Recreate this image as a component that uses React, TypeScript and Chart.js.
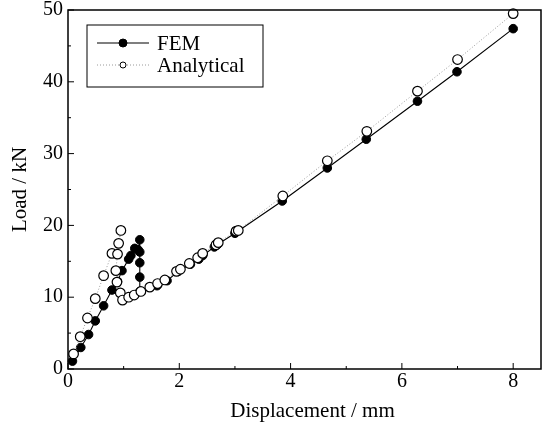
import { useEffect, useRef } from "react";
import { Chart, registerables } from "chart.js";

Chart.register(...registerables);

const seriesNames = ["FEM", "Analytical"];

const femX = [0.08, 0.23, 0.37, 0.49, 0.64, 0.79, 0.89, 0.97, 1.09, 1.13, 1.2, 1.26, 1.29, 1.29, 1.29, 1.29, 1.29, 1.6, 1.78, 1.98, 2.2, 2.35, 2.42, 2.63, 2.68, 3.0, 3.85, 4.66, 5.36, 6.28, 6.99, 8.0];
const femY = [1.1, 3.0, 4.8, 6.7, 8.8, 11.0, 12.2, 13.7, 15.3, 15.8, 16.8, 16.6, 18.0, 16.3, 14.8, 12.8, 10.8, 11.6, 12.3, 13.6, 14.6, 15.3, 15.8, 17.0, 17.3, 18.9, 23.4, 28.0, 32.0, 37.3, 41.4, 47.4];

const anaX = [0.1, 0.22, 0.35, 0.49, 0.64, 0.79, 0.91, 0.95, 0.89, 0.86, 0.88, 0.94, 0.98, 1.09, 1.19, 1.31, 1.47, 1.61, 1.74, 1.95, 2.02, 2.18, 2.33, 2.42, 2.66, 2.7, 3.02, 3.06, 3.86, 4.66, 5.37, 6.28, 7.0, 8.0];
const anaY = [2.1, 4.5, 7.1, 9.8, 13.0, 16.1, 17.5, 19.3, 16.0, 13.7, 12.1, 10.6, 9.6, 10.0, 10.3, 10.8, 11.4, 11.9, 12.4, 13.6, 13.9, 14.7, 15.5, 16.1, 17.3, 17.6, 19.2, 19.3, 24.1, 29.0, 33.1, 38.7, 43.1, 49.5];

const xTickValues = [0, 2, 4, 6, 8];
const xMinorTicks = [1, 3, 5, 7];
const yTickValues = [0, 10, 20, 30, 40, 50];
const yMinorTicks = [5, 15, 25, 35, 45];

const xTitle = "Displacement / mm";
const yTitle = "Load / kN";

const FONT = "'Liberation Serif', 'Times New Roman', serif";

const framePlugin = {
  id: "frame",
  afterDraw(chart: any) {
    const { ctx, chartArea: a, scales } = chart;
    ctx.save();
    ctx.strokeStyle = "#000";
    ctx.lineWidth = 1.5;
    ctx.strokeRect(a.left, a.top, a.right - a.left, a.bottom - a.top);

    ctx.lineWidth = 1;
    ctx.beginPath();
    xTickValues.forEach((v) => {
      const px = scales.x.getPixelForValue(v);
      ctx.moveTo(px, a.bottom);
      ctx.lineTo(px, a.bottom - 6);
    });
    xMinorTicks.forEach((v) => {
      const px = scales.x.getPixelForValue(v);
      ctx.moveTo(px, a.bottom);
      ctx.lineTo(px, a.bottom - 3);
    });
    yTickValues.forEach((v) => {
      const py = scales.y.getPixelForValue(v);
      ctx.moveTo(a.left, py);
      ctx.lineTo(a.left + 6, py);
    });
    yMinorTicks.forEach((v) => {
      const py = scales.y.getPixelForValue(v);
      ctx.moveTo(a.left, py);
      ctx.lineTo(a.left + 3, py);
    });
    ctx.stroke();

    // x title
    ctx.fillStyle = "#000";
    ctx.font = `21px ${FONT}`;
    ctx.textAlign = "center";
    ctx.textBaseline = "middle";
    ctx.fillText(xTitle, (a.left + a.right) / 2 + 8, a.bottom + 42);

    // legend
    const bx = a.left + 19;
    const by = a.top + 15;
    const bw = 176;
    const bh = 62;
    ctx.lineWidth = 1;
    ctx.strokeRect(bx, by, bw, bh);
    const ds = chart.data.datasets;
    const rows = [
      { d: ds[1], y: by + 18 },
      { d: ds[0], y: by + 40 },
    ];
    rows.forEach((r, i) => {
      const d = r.d;
      ctx.save();
      ctx.strokeStyle = d.borderColor;
      ctx.lineWidth = d.borderWidth;
      ctx.setLineDash(d.borderDash || []);
      ctx.beginPath();
      ctx.moveTo(bx + 10, r.y);
      ctx.lineTo(bx + 62, r.y);
      ctx.stroke();
      ctx.setLineDash([]);
      ctx.beginPath();
      ctx.arc(bx + 36, r.y, i === 0 ? 4 : 3, 0, Math.PI * 2);
      ctx.fillStyle = d.pointBackgroundColor;
      ctx.fill();
      ctx.strokeStyle = d.pointBorderColor;
      ctx.lineWidth = 1;
      ctx.stroke();
      ctx.restore();
      ctx.fillStyle = "#000";
      ctx.font = `21px ${FONT}`;
      ctx.textAlign = "left";
      ctx.textBaseline = "middle";
      ctx.fillText(d.label, bx + 70, r.y + 1);
    });
    ctx.restore();
  },
};

export default function App() {
  const ref = useRef<HTMLCanvasElement | null>(null);

  useEffect(() => {
    if (!ref.current) return;
    const chart = new Chart(ref.current, {
      type: "scatter",
      data: {
        datasets: [
          {
            label: seriesNames[1],
            data: anaX.map((x, i) => ({ x, y: anaY[i] })),
            showLine: true,
            borderColor: "#9a9a9a",
            borderWidth: 1,
            borderDash: [1, 2],
            pointBackgroundColor: "#ffffff",
            pointBorderColor: "#000000",
            pointBorderWidth: 1.2,
            pointRadius: 4.8,
            clip: 10,
          } as any,
          {
            label: seriesNames[0],
            data: femX.map((x, i) => ({ x, y: femY[i] })),
            showLine: true,
            borderColor: "#000000",
            borderWidth: 1.1,
            pointBackgroundColor: "#000000",
            pointBorderColor: "#000000",
            pointBorderWidth: 1,
            pointRadius: 4.3,
            clip: 10,
            order: 1,
          } as any,
        ],
      },
      options: {
        animation: false,
        responsive: true,
        maintainAspectRatio: false,
        layout: { padding: { top: 10, right: 12, left: 0, bottom: 0 } },
        plugins: { legend: { display: false }, tooltip: { enabled: false } },
        font: { family: FONT },
        scales: {
          x: {
            type: "linear",
            min: 0,
            max: 8.5,
            grid: { display: false, drawTicks: false },
            border: { display: false },
            afterBuildTicks: (s: any) => {
              s.ticks = xTickValues.map((v) => ({ value: v }));
            },
            afterFit: (s: any) => {
              s.height = 60;
              s.paddingLeft = 0;
              s.paddingRight = 0;
            },
            ticks: {
              color: "#000",
              padding: 1,
              font: { family: FONT, size: 20 },
              maxRotation: 0,
            },
          },
          y: {
            type: "linear",
            min: 0,
            max: 50,
            grid: { display: false, drawTicks: false },
            border: { display: false },
            afterBuildTicks: (s: any) => {
              s.ticks = yTickValues.map((v) => ({ value: v }));
            },
            afterFit: (s: any) => {
              s.width = 68;
              s.paddingTop = 0;
              s.paddingBottom = 0;
            },
            title: {
              display: true,
              text: yTitle,
              color: "#000",
              font: { family: FONT, size: 21 },
              padding: { top: 8, bottom: 0 },
            },
            ticks: {
              color: "#000",
              padding: 5,
              font: { family: FONT, size: 20 },
            },
          },
        },
      } as any,
      plugins: [framePlugin],
    });
    return () => chart.destroy();
  }, []);

  return (
    <div style={{ position: "fixed", left: 0, top: 0, width: 553, height: 429, background: "#fff" }}>
      <canvas ref={ref} />
    </div>
  );
}
